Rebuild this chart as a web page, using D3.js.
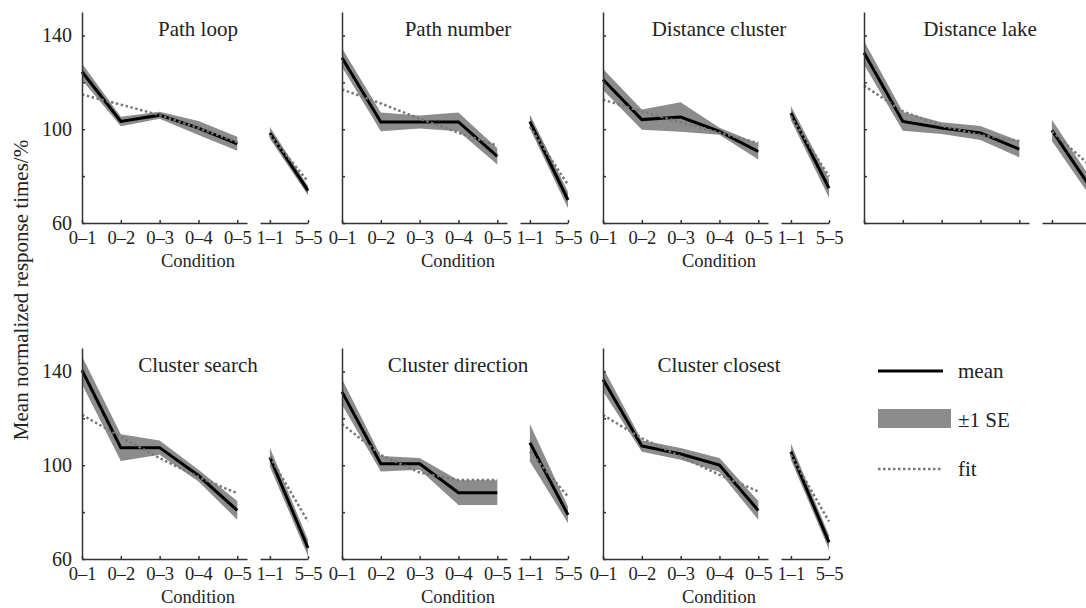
<!DOCTYPE html>
<meta charset="utf-8">
<style>

body {
  margin: 0;
  background: #fff;
}

svg text {
  font-family: "Liberation Serif", "Times New Roman", serif;
  fill: #222;
}

.axis path,
.axis line {
  fill: none;
  stroke: #333;
  stroke-width: 1.5;
}

.axis text {
  font-size: 18.5px;
}

.y.axis text {
  font-size: 20px;
}

.band {
  fill: #8c8c8c;
}

.mean {
  fill: none;
  stroke: #000;
  stroke-width: 3;
}

.fit {
  fill: none;
  stroke: #787878;
  stroke-width: 2.5;
  stroke-dasharray: 2.5,2.5;
}

</style>
<body>
<svg width="1086" height="608"></svg>
<script src="https://d3js.org/d3.v7.min.js"></script>
<script>

var titles = ["Path loop", "Path number", "Distance cluster", "Distance lake",
              "Cluster search", "Cluster direction", "Cluster closest"];
var conditions = ["0–1", "0–2", "0–3", "0–4", "0–5"];
var extremes = ["1–1", "5–5"];
var yTicks = [60, 80, 100, 120, 140];
var yLabels = [60, 100, 140];

// conditions 0-1 .. 0-5
var meanMain = [
  [124.5, 103.3, 106.0, 100.5, 93.8],
  [130.5, 103.1, 103.1, 103.1, 88.4],
  [121.2, 104.1, 105.2, 99.1, 90.5],
  [132.6, 103.3, 100.5, 98.4, 91.5],
  [140.5, 107.5, 107.5, 95.6, 80.7],
  [131.3, 100.6, 100.6, 88.3, 88.3],
  [136.6, 108.2, 104.8, 100.1, 80.7]
];
var seMain = [
  [3.5, 2.0, 1.5, 3.0, 3.0],
  [4.0, 4.0, 2.8, 4.0, 3.5],
  [4.5, 4.3, 6.3, 1.5, 3.4],
  [5.0, 4.0, 2.5, 3.0, 3.5],
  [6.0, 5.7, 3.0, 2.5, 4.0],
  [5.5, 3.3, 2.5, 5.3, 5.3],
  [5.0, 2.5, 2.5, 3.0, 4.0]
];
var fitMain = [
  [114.8, 110.5, 106.0, 100.5, 94.5],
  [117.0, 111.0, 104.5, 98.5, 93.0],
  [112.6, 107.6, 103.0, 98.5, 94.0],
  [118.6, 107.6, 101.5, 97.5, 95.0],
  [121.5, 112.0, 103.0, 95.0, 88.0],
  [117.6, 104.4, 96.9, 93.7, 93.7],
  [121.4, 111.5, 103.7, 95.9, 88.8]
];

// conditions 1-1, 5-5
var meanExt = [[98.4, 73.8], [103.3, 69.8], [106.9, 74.8], [99.5, 75.5],
               [103.4, 64.7], [109.6, 78.8], [105.8, 67.1]];
var seExt = [[2.5, 2.0], [3.0, 3.5], [3.0, 4.0], [4.5, 4.0],
             [4.0, 3.5], [8.0, 3.5], [3.5, 3.0]];
var fitExt = [[97.5, 77.7], [101.0, 76.3], [105.5, 79.8], [99.0, 84.5],
              [103.7, 76.0], [105.8, 86.6], [104.4, 76.0]];

var svg = d3.select("svg"),
    panelX = [82, 342, 603, 864],
    rowY = [12, 348],
    height = 211;

var y = d3.scaleLinear().domain([60, 150]).range([height, 0]);
var xMain = d3.scaleLinear().domain([0, 4.25]).range([0, 165]);
var xExt = d3.scaleLinear().domain([-0.26, 1]).range([178, 226]);

titles.forEach(function(title, p) {
  var g = svg.append("g")
      .attr("transform", "translate(" + panelX[p % 4] + "," + rowY[Math.floor(p / 4)] + ")");
  var showLabels = p !== 3;

  var main = meanMain[p].map(function(m, i) { return {x: i, m: m, s: seMain[p][i], f: fitMain[p][i]}; });
  var ext = meanExt[p].map(function(m, i) { return {x: i, m: m, s: seExt[p][i], f: fitExt[p][i]}; });

  [[main, xMain], [ext, xExt]].forEach(function(part) {
    var data = part[0], x = part[1];

    g.append("path")
        .datum(data)
        .attr("class", "band")
        .attr("d", d3.area()
          .x(function(d) { return x(d.x); })
          .y0(function(d) { return y(d.m - d.s); })
          .y1(function(d) { return y(d.m + d.s); }));

    g.append("path")
        .datum(data)
        .attr("class", "mean")
        .attr("d", d3.line()
          .x(function(d) { return x(d.x); })
          .y(function(d) { return y(d.m); }));

    g.append("path")
        .datum(data)
        .attr("class", "fit")
        .attr("d", d3.line()
          .x(function(d) { return x(d.x); })
          .y(function(d) { return y(d.f); }));
  });

  g.append("g")
      .attr("class", "x axis")
      .attr("transform", "translate(0," + height + ")")
      .call(d3.axisBottom(xMain)
        .tickValues(d3.range(conditions.length))
        .tickFormat(function(i) { return showLabels ? conditions[i] : ""; })
        .tickSizeInner(-3).tickSizeOuter(0).tickPadding(8));

  g.append("g")
      .attr("class", "x axis")
      .attr("transform", "translate(0," + height + ")")
      .call(d3.axisBottom(xExt)
        .tickValues(d3.range(extremes.length))
        .tickFormat(function(i) { return showLabels ? extremes[i] : ""; })
        .tickSizeInner(-3).tickSizeOuter(0).tickPadding(8));

  g.append("g")
      .attr("class", "y axis")
      .call(d3.axisLeft(y)
        .tickValues(yTicks)
        .tickFormat(function(d) { return (p % 4 === 0 && yLabels.indexOf(d) >= 0) ? d : ""; })
        .tickSizeInner(-3).tickSizeOuter(0).tickPadding(10));

  g.append("text")
      .attr("x", 116)
      .attr("y", 24)
      .attr("text-anchor", "middle")
      .style("font-size", "21px")
      .text(title);

  if (showLabels) {
    g.append("text")
        .attr("x", 116)
        .attr("y", height + 44)
        .attr("text-anchor", "middle")
        .style("font-size", "18.5px")
        .text("Condition");
  }
});

svg.append("text")
    .attr("transform", "translate(28,290) rotate(-90)")
    .attr("text-anchor", "middle")
    .style("font-size", "21px")
    .text("Mean normalized response times/%");

// legend
var legend = svg.append("g").attr("transform", "translate(878,371)");

legend.append("line")
    .attr("class", "mean")
    .attr("x1", 0).attr("x2", 65)
    .attr("y1", 0).attr("y2", 0);

legend.append("rect")
    .attr("class", "band")
    .attr("x", 0).attr("y", 38)
    .attr("width", 73).attr("height", 19);

legend.append("line")
    .attr("class", "fit")
    .attr("x1", 0).attr("x2", 65)
    .attr("y1", 98).attr("y2", 98);

legend.selectAll(".label")
    .data(["mean", "±1 SE", "fit"])
  .enter().append("text")
    .attr("class", "label")
    .attr("x", 80)
    .attr("y", function(d, i) { return i * 49 + 7; })
    .style("font-size", "21px")
    .text(function(d) { return d; });

</script>
</body>
